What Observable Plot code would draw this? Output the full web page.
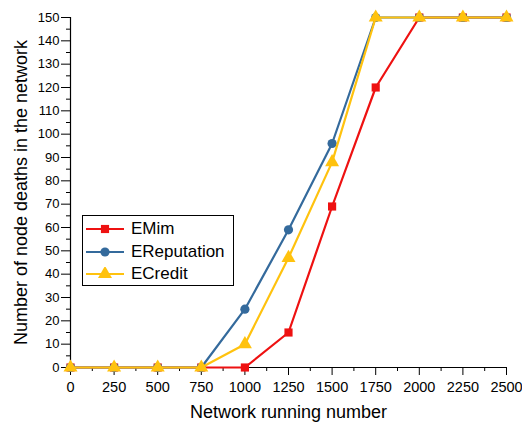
<!DOCTYPE html>
<html>
<head>
<meta charset="utf-8">
<script src="https://cdn.jsdelivr.net/npm/d3@7"></script>
<script src="https://cdn.jsdelivr.net/npm/@observablehq/plot@0.6"></script>
<style>
  html, body { margin: 0; padding: 0; background: #fff; }
  #wrap { position: relative; width: 522px; height: 426px; font-family: "Liberation Sans", Arial, sans-serif; }
  #legend { position: absolute; left: 82px; top: 215px; width: 152px; height: 71px; border: 1px solid #000; background: #fff; box-sizing: border-box; }
  .item { position: absolute; left: 2px; height: 22px; display: flex; align-items: center; font-size: 17px; color: #000; }
  .item svg { margin-right: 6px; }
</style>
</head>
<body>
<div id="wrap"></div>
<script>
const runs = [0, 250, 500, 750, 1000, 1250, 1500, 1750, 2000, 2250, 2500];
const emim = [0, 0, 0, 0, 0, 15, 69, 120, 150, 150, 150];
const ereputation = [0, 0, 0, 0, 25, 59, 96, 150, 150, 150, 150];
const ecredit = [0, 0, 0, 0, 10, 47, 88, 150, 150, 150, 150];
const seriesNames = ["EMim", "EReputation", "ECredit"];
const seriesColors = ["#ee1111", "#346a9c", "#ffc20e"];
const seriesSymbols = ["square", "circle", "triangle"];
const xTicks = [0, 250, 500, 750, 1000, 1250, 1500, 1750, 2000, 2250, 2500];
const yTicks = d3.range(0, 151, 10);

const values = [emim, ereputation, ecredit];
const rows = [];
seriesNames.forEach((name, i) => runs.forEach((r, j) => rows.push({series: name, x: r, y: values[i][j]})));

const symR = {square: 4.6, circle: 4.6, triangle: 5.2};

const marks = [
  Plot.axisX({ticks: d3.range(125, 2500, 250), tickSize: 4, text: null, label: null}),
  Plot.axisY({ticks: d3.range(5, 150, 10), tickSize: 4, text: null, label: null}),
  Plot.axisX({ticks: xTicks, tickSize: 8, tickPadding: 6, fontSize: 14.5, tickFormat: d3.format("d"), label: "Network running number", labelAnchor: "center", labelArrow: "none", labelOffset: 50}),
  Plot.axisY({ticks: yTicks, tickSize: 9, tickPadding: 2, fontSize: 13, tickFormat: d3.format("d"), label: "Number of node deaths in the network", labelAnchor: "center", labelArrow: "none", labelOffset: 56}),
  Plot.ruleX([0], {stroke: "#000", strokeWidth: 1.2}),
  Plot.ruleY([0], {stroke: "#000", strokeWidth: 1.2})
];
seriesNames.forEach((name, i) => {
  const d = rows.filter(r => r.series === name);
  marks.push(Plot.line(d, {x: "x", y: "y", stroke: seriesColors[i], strokeWidth: 2.2}));
  marks.push(Plot.dot(d, {x: "x", y: "y", fill: seriesColors[i], stroke: "none", symbol: seriesSymbols[i], r: symR[seriesSymbols[i]]}));
});

const chart = Plot.plot({
  width: 522,
  height: 426,
  marginLeft: 70,
  marginRight: 16,
  marginTop: 17,
  marginBottom: 59,
  style: {fontFamily: '"Liberation Sans", Arial, sans-serif', fontSize: "13px", color: "#000", background: "#fff", overflow: "visible"},
  x: {domain: [0, 2500]},
  y: {domain: [0, 150]},
  marks
});
chart.querySelectorAll('[aria-label="x-axis label"] text, [aria-label="y-axis label"] text').forEach(t => t.style.fontSize = "18px");
const wrap = document.getElementById("wrap");
wrap.appendChild(chart);

const legend = document.createElement("div");
legend.id = "legend";
seriesNames.forEach((name, i) => {
  const item = document.createElement("div");
  item.className = "item";
  item.style.top = (2 + i * 22.5) + "px";
  const sym = d3.symbol(seriesSymbols[i] === "square" ? d3.symbolSquare : seriesSymbols[i] === "circle" ? d3.symbolCircle : d3.symbolTriangle, Math.PI * symR[seriesSymbols[i]] ** 2)();
  item.innerHTML = `<svg width="40" height="14"><line x1="1" x2="39" y1="7" y2="7" stroke="${seriesColors[i]}" stroke-width="2.2"/><path transform="translate(20,7)" d="${sym}" fill="${seriesColors[i]}"/></svg>${name}`;
  legend.appendChild(item);
});
wrap.appendChild(legend);
</script>
</body>
</html>
